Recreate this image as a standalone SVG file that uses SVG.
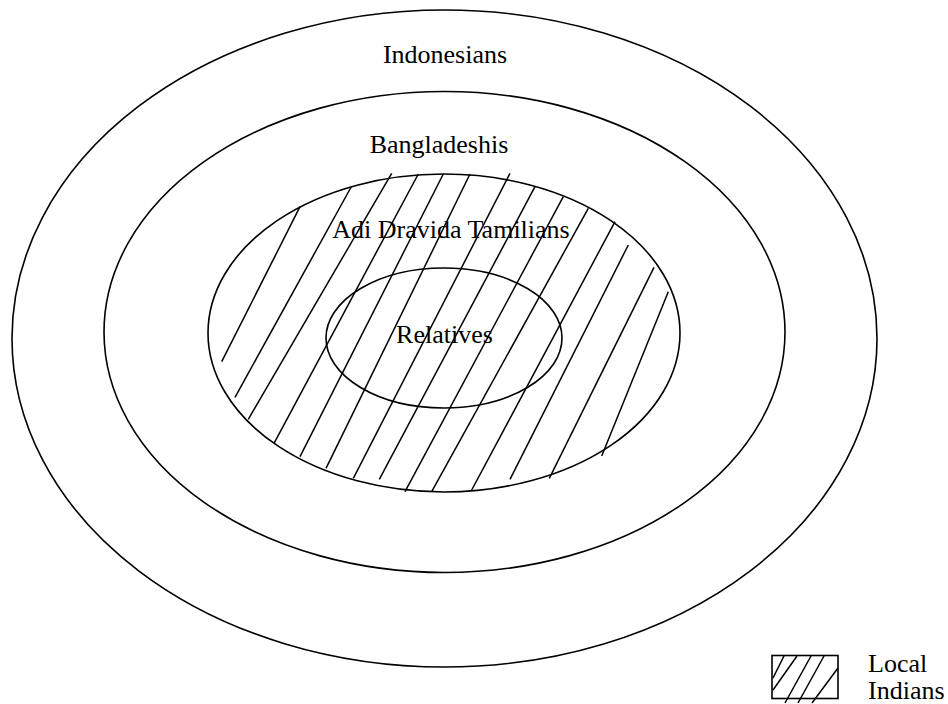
<svg xmlns="http://www.w3.org/2000/svg" width="948" height="704" viewBox="0 0 948 704">
<style>
.ring{fill:none;stroke:#000;stroke-width:1.6}
.hatch{stroke:#000;stroke-width:1.5;fill:none}
.lbl{font-family:"Liberation Serif","Times New Roman",serif;font-size:26px;fill:#000}
.mid{text-anchor:middle}
</style>
<rect width="948" height="704" fill="#fff"/>
<g id="indonesians">
<ellipse class="ring" cx="444.5" cy="338.5" rx="432.5" ry="328.5"/>
<text class="lbl mid" x="445" y="63">Indonesians</text>
</g>
<g id="bangladeshis">
<ellipse class="ring" cx="444.5" cy="332" rx="340.5" ry="240.5"/>
<text class="lbl mid" x="439" y="153">Bangladeshis</text>
</g>
<g id="adi-dravida-tamilians">
<ellipse class="ring" cx="444" cy="333" rx="236" ry="159"/>
<g id="local-indians-hatch" class="hatch">
<line x1="300" y1="206.7" x2="221.7" y2="361.7"/>
<line x1="351.7" y1="186" x2="235" y2="397.3"/>
<line x1="391.7" y1="173.3" x2="248.3" y2="419.3"/>
<line x1="418.3" y1="174" x2="274" y2="443.3"/>
<line x1="443.3" y1="174" x2="300" y2="456.7"/>
<line x1="470" y1="174" x2="326" y2="468.3"/>
<line x1="510" y1="173.3" x2="353.3" y2="478.3"/>
<line x1="535" y1="186.7" x2="379.3" y2="479.3"/>
<line x1="563.3" y1="196.7" x2="405" y2="491.7"/>
<line x1="588.3" y1="208.3" x2="431.7" y2="491.7"/>
<line x1="615" y1="221.7" x2="471.7" y2="490"/>
<line x1="628.3" y1="245" x2="510" y2="479.3"/>
<line x1="654" y1="267.3" x2="549.3" y2="478.3"/>
<line x1="668.3" y1="291.7" x2="601.7" y2="456"/>
</g>
<text class="lbl mid" x="451" y="238">Adi Dravida Tamilians</text>
</g>
<g id="relatives">
<ellipse class="ring" cx="444" cy="338" rx="118" ry="70"/>
<text class="lbl mid" x="444.5" y="343">Relatives</text>
</g>
<g id="legend">
<rect x="772" y="655.5" width="66" height="43" fill="none" stroke="#000" stroke-width="1.6"/>
<g class="hatch">
<line x1="784" y1="656" x2="773" y2="678"/>
<line x1="797" y1="656" x2="773" y2="690"/>
<line x1="811" y1="656" x2="785" y2="703"/>
<line x1="824" y1="656" x2="798" y2="703"/>
<line x1="838" y1="668" x2="812" y2="703"/>
</g>
<text class="lbl" x="868" y="672">Local</text>
<text class="lbl" x="868" y="699">Indians</text>
</g>
</svg>
